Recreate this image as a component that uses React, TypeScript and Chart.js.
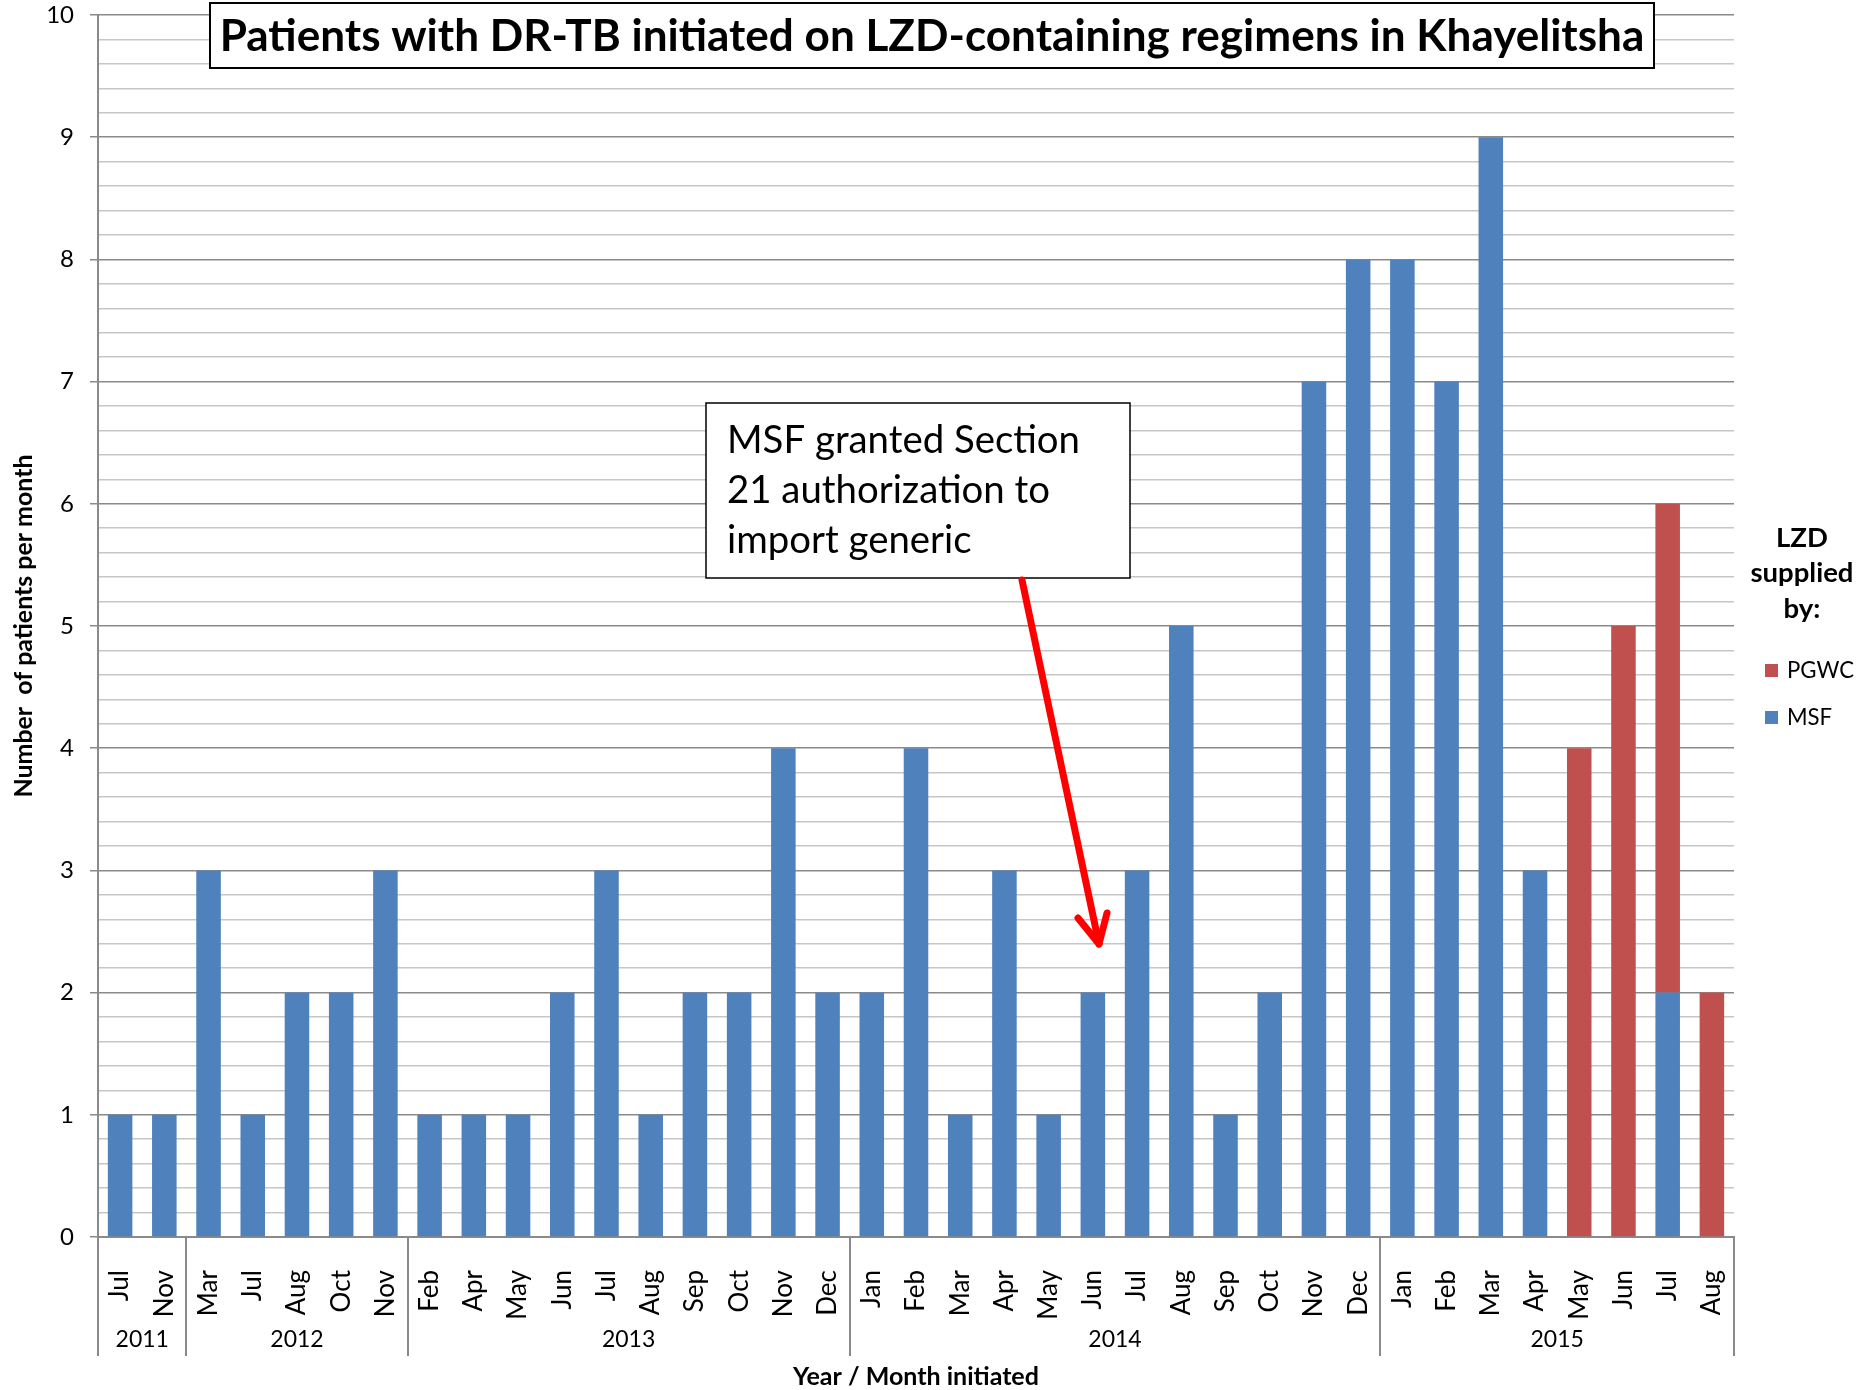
import React, { useEffect, useRef } from 'react';
import { Chart, registerables } from 'chart.js';

Chart.register(...registerables);

// ---------- data ----------
const months = [
  'Jul', 'Nov',
  'Mar', 'Jul', 'Aug', 'Oct', 'Nov',
  'Feb', 'Apr', 'May', 'Jun', 'Jul', 'Aug', 'Sep', 'Oct', 'Nov', 'Dec',
  'Jan', 'Feb', 'Mar', 'Apr', 'May', 'Jun', 'Jul', 'Aug', 'Sep', 'Oct', 'Nov', 'Dec',
  'Jan', 'Feb', 'Mar', 'Apr', 'May', 'Jun', 'Jul', 'Aug',
];
const years = ['2011', '2012', '2013', '2014', '2015'];
const monthsPerYear = [2, 5, 10, 12, 8];

const msfValues = [
  1, 1,
  3, 1, 2, 2, 3,
  1, 1, 1, 2, 3, 1, 2, 2, 4, 2,
  2, 4, 1, 3, 1, 2, 3, 5, 1, 2, 7, 8,
  8, 7, 9, 3, 0, 0, 2, 0,
];
const pgwcValues = [
  0, 0,
  0, 0, 0, 0, 0,
  0, 0, 0, 0, 0, 0, 0, 0, 0, 0,
  0, 0, 0, 0, 0, 0, 0, 0, 0, 0, 0, 0,
  0, 0, 0, 0, 4, 5, 4, 2,
];

const chartTitle = 'Patients with DR-TB initiated on LZD-containing regimens in Khayelitsha';
const annotationLines = ['MSF granted Section', '21 authorization to', 'import generic'];
const legendTitleLines = ['LZD', 'supplied', 'by:'];
const yTitle = 'Number  of patients per month';
const xTitle = 'Year / Month initiated';

const MSF_COLOR = '#4F81BD';
const PGWC_COLOR = '#C0504D';
const AXIS_GRAY = '#8a8a8a';
const MINOR_GRAY = '#c6c6c6';
const FONT = 'Lato, "Open Sans", sans-serif';

const isMajor = (v: number) => Math.abs(v - Math.round(v)) < 1e-6;

function fitFont(ctx: CanvasRenderingContext2D, text: string, target: number, weight: string) {
  ctx.font = `${weight} 40px ${FONT}`;
  const w = ctx.measureText(text).width;
  const size = (40 * target) / w;
  ctx.font = `${weight} ${size.toFixed(2)}px ${FONT}`;
  return size;
}

const overlayPlugin = {
  id: 'overlay',
  afterDraw(chart: any) {
    const { ctx, chartArea, scales } = chart;
    const xs = scales.x;
    const n = months.length;
    ctx.save();

    // ---- year separators & labels ----
    const boundary = (i: number) =>
      i <= 0 ? chartArea.left : i >= n ? chartArea.right : (xs.getPixelForValue(i - 1) + xs.getPixelForValue(i)) / 2;
    const sepBottom = chartArea.bottom + 119;
    ctx.strokeStyle = AXIS_GRAY;
    ctx.lineWidth = 2;
    let idx = 0;
    const bounds: number[] = [0];
    monthsPerYear.forEach((c) => {
      idx += c;
      bounds.push(idx);
    });
    ctx.beginPath();
    bounds.forEach((b) => {
      const bx = Math.round(boundary(b));
      ctx.moveTo(bx, chartArea.bottom);
      ctx.lineTo(bx, sepBottom);
    });
    ctx.stroke();
    ctx.fillStyle = '#000';
    ctx.font = `23px ${FONT}`;
    ctx.textAlign = 'center';
    ctx.textBaseline = 'middle';
    years.forEach((yr, k) => {
      const cx = (boundary(bounds[k]) + boundary(bounds[k + 1])) / 2;
      ctx.fillText(yr, cx, chartArea.bottom + 103);
    });

    // ---- x title ----
    fitFont(ctx, xTitle, 246, 'bold');
    ctx.textAlign = 'center';
    ctx.textBaseline = 'middle';
    ctx.fillText(xTitle, (chartArea.left + chartArea.right) / 2, 1377);

    // ---- y title ----
    ctx.save();
    ctx.translate(24, (chartArea.top + chartArea.bottom) / 2);
    ctx.rotate(-Math.PI / 2);
    fitFont(ctx, yTitle, 343, 'bold');
    ctx.textAlign = 'center';
    ctx.textBaseline = 'middle';
    ctx.fillText(yTitle, 0, 0);
    ctx.restore();

    // ---- title box ----
    ctx.fillStyle = '#fff';
    ctx.fillRect(210, 3, 1444, 65);
    ctx.strokeStyle = '#000';
    ctx.lineWidth = 2;
    ctx.strokeRect(210, 3, 1444, 65);
    ctx.fillStyle = '#000';
    fitFont(ctx, chartTitle, 1425, 'bold');
    ctx.textAlign = 'center';
    ctx.textBaseline = 'alphabetic';
    ctx.fillText(chartTitle, 932, 51);

    // ---- annotation box ----
    ctx.fillStyle = '#fff';
    ctx.fillRect(706, 403, 424, 175);
    ctx.strokeStyle = '#000';
    ctx.lineWidth = 1.5;
    ctx.strokeRect(706, 403, 424, 175);
    ctx.fillStyle = '#000';
    fitFont(ctx, annotationLines[0], 353, 'normal');
    ctx.textAlign = 'left';
    ctx.textBaseline = 'alphabetic';
    annotationLines.forEach((ln, k) => ctx.fillText(ln, 727, 453 + k * 50));

    // ---- arrow ----
    ctx.strokeStyle = '#ff0000';
    ctx.lineWidth = 7;
    ctx.lineCap = 'round';
    ctx.lineJoin = 'round';
    ctx.beginPath();
    ctx.moveTo(1022, 580);
    ctx.lineTo(1099, 944);
    ctx.stroke();
    ctx.beginPath();
    ctx.moveTo(1078, 918);
    ctx.lineTo(1099, 944);
    ctx.lineTo(1107, 913);
    ctx.stroke();

    // ---- legend ----
    ctx.fillStyle = '#000';
    fitFont(ctx, legendTitleLines[1], 103, 'bold');
    ctx.textAlign = 'center';
    ctx.textBaseline = 'middle';
    legendTitleLines.forEach((ln, k) => ctx.fillText(ln, 1802, 538 + k * 35.5));
    const items = [
      { label: 'PGWC', color: PGWC_COLOR, y: 671 },
      { label: 'MSF', color: MSF_COLOR, y: 718 },
    ];
    fitFont(ctx, 'PGWC', 67, 'normal');
    ctx.textAlign = 'left';
    items.forEach((it) => {
      ctx.fillStyle = it.color;
      ctx.fillRect(1765, it.y - 7, 13, 13);
      ctx.fillStyle = '#000';
      ctx.fillText(it.label, 1787, it.y);
    });

    ctx.restore();
  },
};

export default function App() {
  const ref = useRef<HTMLCanvasElement>(null);

  useEffect(() => {
    if (!ref.current) return;
    const chart = new Chart(ref.current, {
      type: 'bar',
      data: {
        labels: months,
        datasets: [
          {
            label: 'MSF',
            data: msfValues,
            backgroundColor: MSF_COLOR,
            borderWidth: 0,
            barPercentage: 0.555,
            categoryPercentage: 1,
          },
          {
            label: 'PGWC',
            data: pgwcValues,
            backgroundColor: PGWC_COLOR,
            borderWidth: 0,
            barPercentage: 0.555,
            categoryPercentage: 1,
          },
        ],
      },
      options: {
        responsive: false,
        animation: false,
        devicePixelRatio: 1,
        layout: { padding: { top: 15, right: 131, left: 0, bottom: 0 } },
        plugins: {
          legend: { display: false },
          title: { display: false },
          tooltip: { enabled: false },
        },
        scales: {
          x: {
            stacked: true,
            grid: { display: false },
            border: { display: true, color: AXIS_GRAY, width: 2 },
            ticks: {
              autoSkip: false,
              maxRotation: 90,
              minRotation: 90,
              padding: 25,
              color: '#000',
              font: { family: FONT, size: 26 },
            },
            afterFit: (scale: any) => {
              scale.height = 153;
              scale.paddingLeft = 0;
              scale.paddingRight = 0;
            },
          },
          y: {
            stacked: true,
            min: 0,
            max: 10,
            border: { display: true, color: AXIS_GRAY, width: 2 },
            grid: {
              color: (c: any) => (isMajor(c.tick.value) ? AXIS_GRAY : MINOR_GRAY),
              tickColor: (c: any) => (isMajor(c.tick.value) ? AXIS_GRAY : 'rgba(0,0,0,0)'),
              lineWidth: 1.5,
              tickLength: 8,
            },
            ticks: {
              stepSize: 0.2,
              autoSkip: false,
              padding: 16,
              color: '#000',
              font: { family: FONT, size: 24 },
              callback: (v: any) => (isMajor(Number(v)) ? String(Math.round(Number(v))) : ''),
            },
            afterFit: (scale: any) => {
              scale.width = 98;
              scale.paddingTop = 0;
              scale.paddingBottom = 0;
            },
          },
        },
      },
      plugins: [overlayPlugin],
    } as any);
    return () => chart.destroy();
  }, []);

  return (
    <div style={{ position: 'fixed', left: 0, top: 0, width: 1865, height: 1390, background: '#fff' }}>
      <canvas ref={ref} width={1865} height={1390} style={{ display: 'block', width: 1865, height: 1390 }} />
    </div>
  );
}
